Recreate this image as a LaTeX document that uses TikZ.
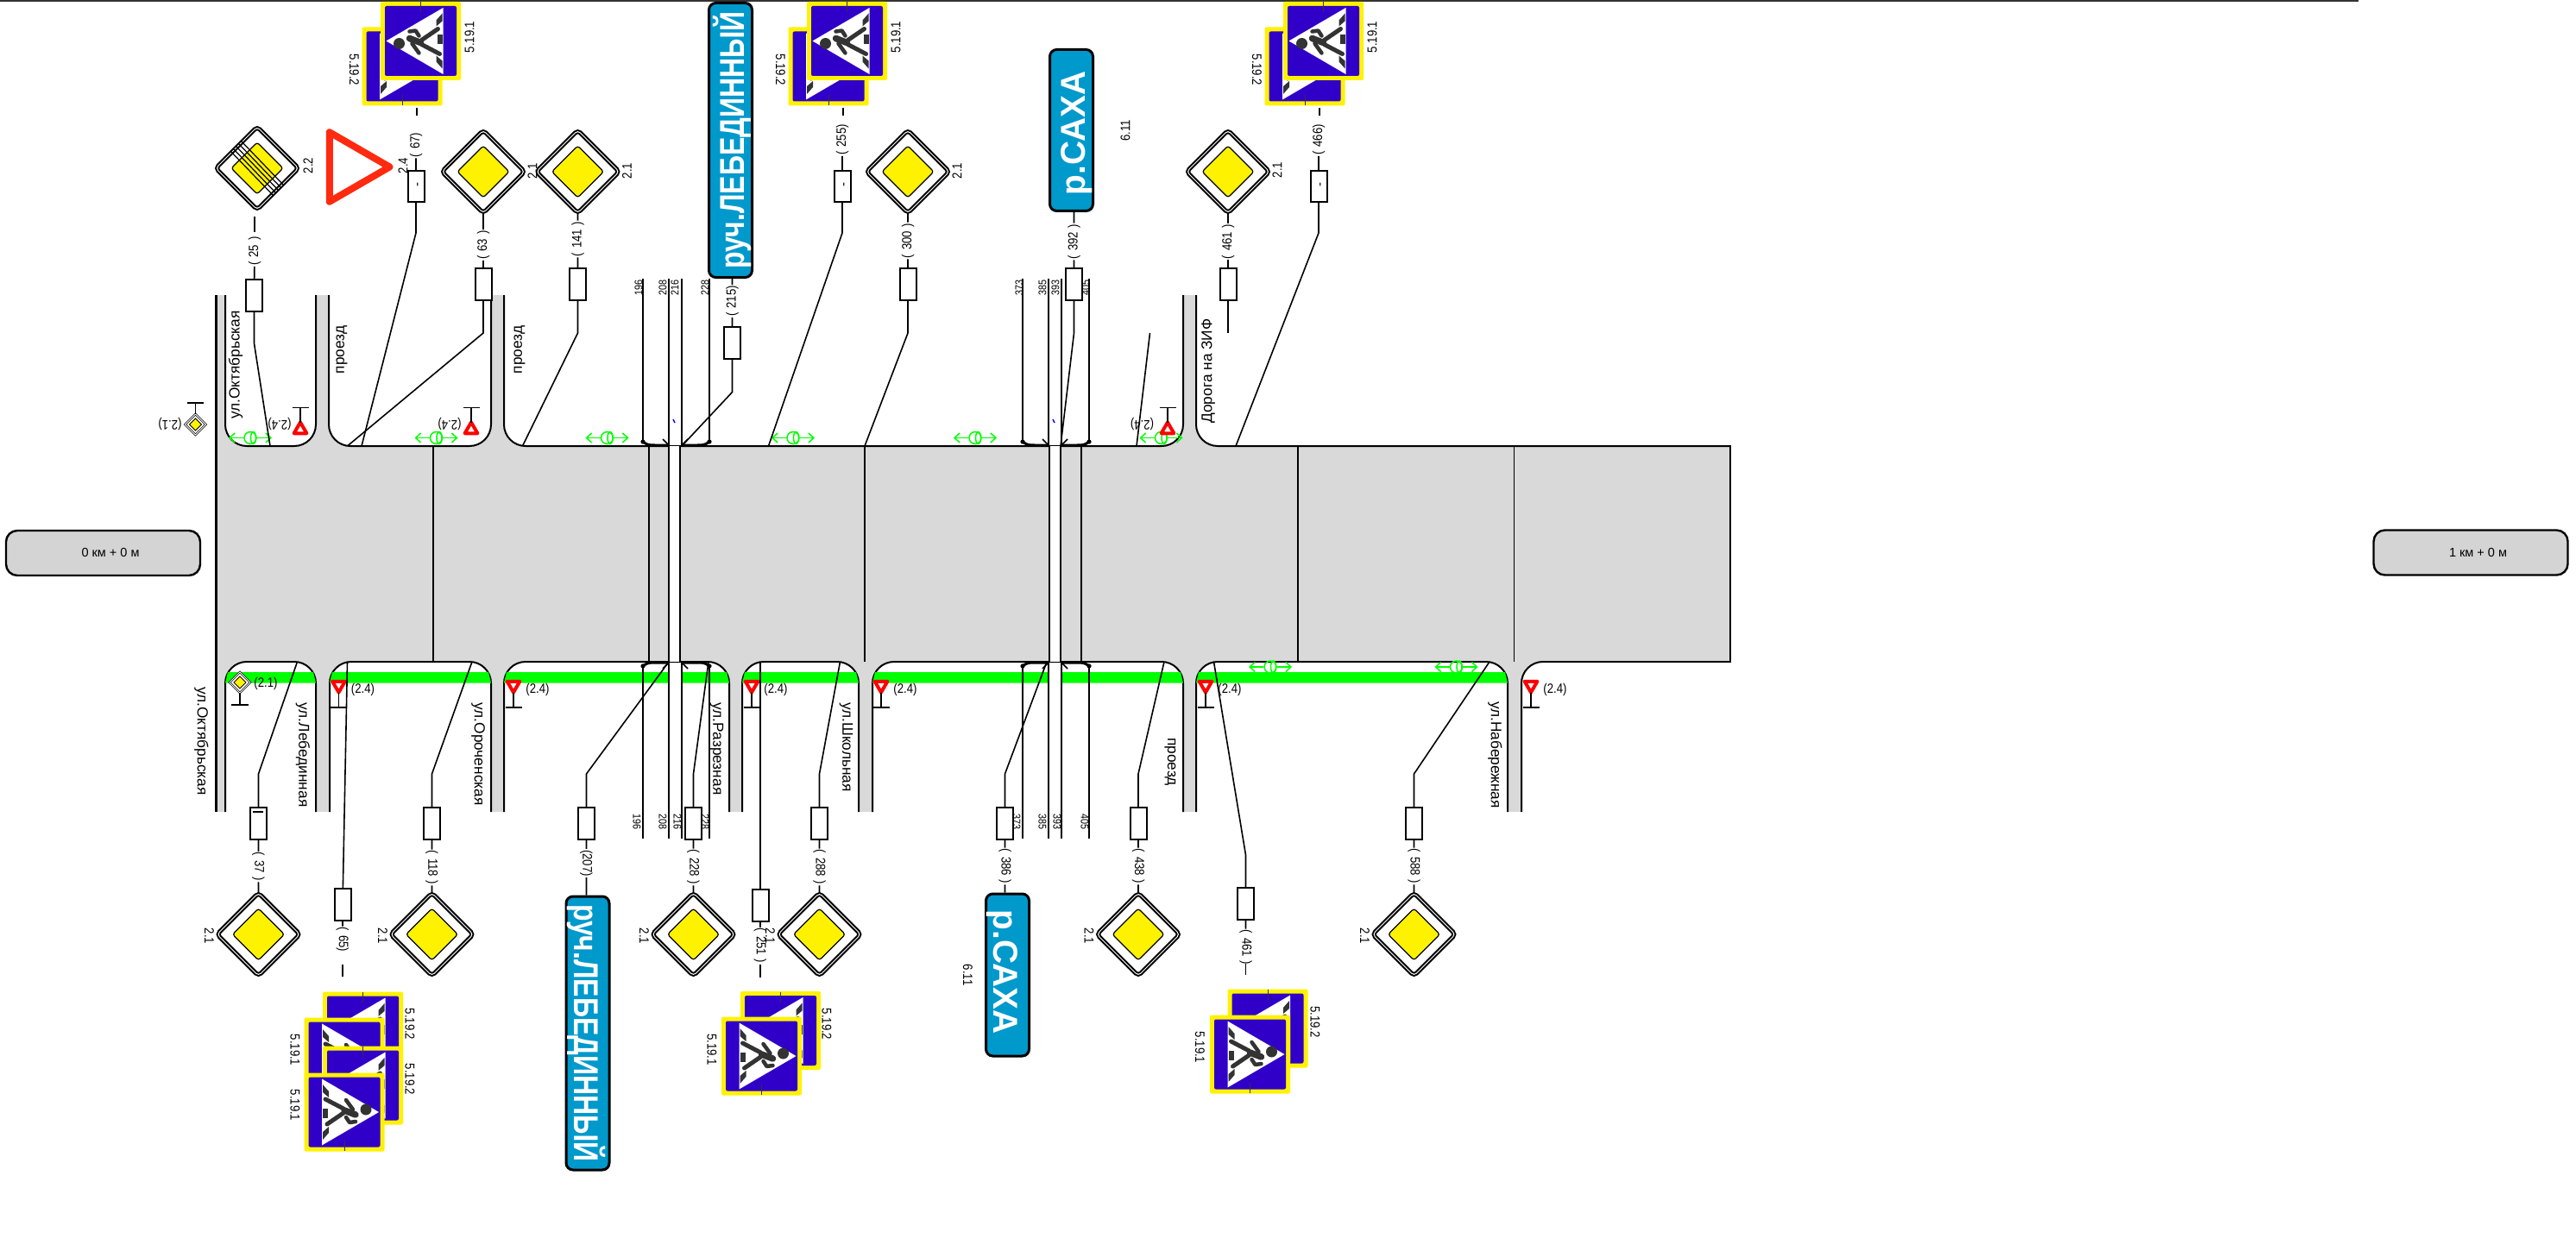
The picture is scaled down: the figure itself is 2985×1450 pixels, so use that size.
\documentclass[tikz,border=0pt]{standalone}
\usepackage{fontspec}
\setmainfont{Liberation Sans}
\newfontfamily\condfont{Liberation Sans}[FakeStretch=0.85]
\newfontfamily\distfont{Liberation Sans}[FakeStretch=0.85,WordSpace=1.15]
\newfontfamily\riverlong{Liberation Sans}[FakeStretch=0.8]
\newfontfamily\rivershort{Liberation Sans}[FakeStretch=0.97]
\usetikzlibrary{shapes.geometric,arrows.meta}
\definecolor{roadgrey}{HTML}{D9D9D9}
\definecolor{kmgrey}{HTML}{D4D4D4}
\definecolor{signblue}{HTML}{3000C8}
\definecolor{riverblue}{HTML}{0099CC}
\definecolor{bandgreen}{HTML}{00FF00}
\definecolor{triared}{HTML}{FF2A10}
\definecolor{pedgrey}{HTML}{333333}
\tikzset{
  conn/.style={line width=1.6pt},
  edge/.style={line width=2pt},
  box/.style={rectangle,draw,fill=white,line width=2pt,minimum width=19pt,minimum height=37pt,inner sep=0pt,outer sep=0pt},
  dist/.style={font=\distfont\fontsize{15.5}{17}\selectfont,inner sep=1pt},
  sgncap/.style={font=\condfont\fontsize{15.5}{17}\selectfont,inner sep=0pt},
  small/.style={font=\condfont\fontsize{12.7}{14}\selectfont,inner sep=0pt},
  tick/.style={font=\fontsize{15}{15}\selectfont,inner sep=0pt,rotate=90},
  mini/.style={font=\condfont\fontsize{15.5}{17}\selectfont,inner sep=0pt},
  street/.style={font=\fontsize{17.3}{19}\selectfont,inner sep=0pt},
  km/.style={rectangle,draw,fill=kmgrey,line width=2.4pt,rounded corners=13pt,minimum width=225pt,minimum height=52pt,font=\fontsize{14.5}{16}\selectfont},
  river/.style={rectangle,draw,fill=riverblue,line width=3pt,rounded corners=8pt,minimum height=50pt,inner sep=0pt,text=white,text height=32pt,text depth=0pt,font=\bfseries\fontsize{40}{44}\selectfont},
  priofill/.style={diamond,draw,fill=yellow,line width=1.2pt,rounded corners=3pt,minimum size=60pt,inner sep=0pt,outer sep=0pt},
  prio/.style={diamond,draw,fill=white,double,double distance=1pt,line width=2pt,rounded corners=4pt,minimum size=96pt,inner sep=0pt,outer sep=0pt,label={[priofill]center:}},
  minifill/.style={diamond,draw,fill=yellow,line width=.8pt,minimum size=14pt,inner sep=0pt,outer sep=0pt},
  minimain/.style={diamond,draw,fill=white,double,double distance=.8pt,line width=.8pt,minimum size=24pt,inner sep=0pt,outer sep=0pt,label={[minifill]center:}},
  giveway/.style={regular polygon,regular polygon sides=3,draw=red,fill=white,line width=4pt,line join=round,minimum size=17pt,inner sep=0pt,outer sep=0pt},
  bigway/.style={regular polygon,regular polygon sides=3,draw=triared,fill=white,line width=8pt,line join=round,minimum size=93pt,inner sep=0pt,outer sep=0pt,shape border rotate=-90},
  post/.style={line width=1.6pt},
  grn/.style={draw=bandgreen,line width=1.5pt,>={Straight Barb[length=6pt,width=11pt]}},
  crossing/.pic={
    \fill[yellow,rounded corners=2pt] (-46.5,-45.5) rectangle (46.5,45.5);
    \fill[signblue,rounded corners=2pt] (-41.5,-40.5) rectangle (41.5,40.5);
    \fill[white] (-40,0) -- (26,-38.5) -- (26,38.5) -- cycle;
    \fill[pedgrey] (18,-17) -- (18,-24) -- (25,-32) -- (25,-23) -- cycle;
    \fill[pedgrey] (19,-7) -- (25,-7) -- (25,4) -- (19,4) -- cycle;
    \fill[pedgrey] (18,17) -- (18,24) -- (25,32) -- (25,23) -- cycle;
    \fill[pedgrey] (-25,3) circle (6.5);
    \draw[pedgrey,line width=7.5pt,line cap=round,line join=round] (-13,-3) -- (0,2);
    \draw[pedgrey,line width=5pt,line cap=round,line join=round] (1,-1) -- (20,-14);
    \draw[pedgrey,line width=5pt,line cap=round,line join=round] (1,4) -- (22,15);
    \draw[pedgrey,line width=4.5pt,line cap=round,line join=round] (-13,-11) -- (-6,-12) -- (-2,-6);
    \draw[pedgrey,line width=4.5pt,line cap=round,line join=round] (-10,3) -- (-2,14);
    \draw[pedgrey,line width=.4pt] (0,-45) -- (0,-33);
  }
}
\begin{document}
\begin{tikzpicture}[x=1pt,y=-1pt]
  \useasboundingbox (0,0) rectangle (2985,1450);
  \coordinate (topa) at (0,1); \coordinate (topb) at (2733,1);
  \draw[line width=2pt,pedgrey] (topa) -- (topb);
%
  \fill[roadgrey] (250,342) rectangle (1386,517);
  \fill[roadgrey] (250,517) rectangle (2005,767);
  \fill[roadgrey] (250,767) rectangle (1763,941);
  \fill[roadgrey] (1386,490) rectangle (1412,517);
  \fill[roadgrey] (1763,767) rectangle (1789,793);
%
  \foreach \xa/\xb in {261/366,381/569,584/1371}
    \filldraw[edge,fill=white,rounded corners=25pt] (\xa,342) -- (\xa,517) -- (\xb,517) -- (\xb,342);
  \foreach \xa/\xb in {261/366,382/569,584/845,860/995,1011/1371,1386/1747}
    \filldraw[edge,fill=white,rounded corners=25pt] (\xa,941) -- (\xa,767) -- (\xb,767) -- (\xb,941);
  \fill[white,rounded corners=25pt] (1386,440) -- (1386,517) -- (1450,517) -- (1450,440) -- cycle;
  \fill[white,rounded corners=25pt] (1763,830) -- (1763,767) -- (1830,767) -- (1830,830) -- cycle;
  \draw[edge,rounded corners=25pt] (1386,342) -- (1386,517) -- (2005,517);
  \draw[edge,rounded corners=25pt] (2005,767) -- (1763,767) -- (1763,941);
  \draw[edge] (2005,516) -- (2005,768);
  \draw[line width=3pt] (250,342) -- (250,941);
%
  \foreach \xa/\xb/\ta/\tb in {261/366/264/363,382/569/385/566,584/775/587/775,790/845/790/842,860/995/863/992,1011/1215/1014/1215,1229/1371/1229/1368,1386/1747/1389/1744}
    \fill[bandgreen] (\xa,791.5) -- (\ta,779) -- (\tb,779) -- (\xb,791.5) -- cycle;
%
  \fill[white] (775,517) rectangle (788,767);
  \fill[white] (1216,517) rectangle (1229,767);
  \foreach \x in {502,752,775,788,1002,1216,1229,1253,1504,1754.5}
    \draw[conn] (\x,517) -- (\x,767);
%
  \foreach \xa/\xb/\xc/\xd in {745/775/790/822,1185/1215/1230/1262} {
    \draw[conn] (\xa,323) -- (\xa,512); \draw[conn] (\xb,323) -- (\xb,516); \draw[conn] (\xc,323) -- (\xc,516); \draw[conn] (\xd,323) -- (\xd,512);
    \draw[conn] (\xa,772) -- (\xa,972); \draw[conn] (\xb,768) -- (\xb,972); \draw[conn] (\xc,768) -- (\xc,972); \draw[conn] (\xd,772) -- (\xd,972);
    \fill (\xa,512) circle (2.6); \fill (\xd,512) circle (2.6); \fill (\xa,772) circle (2.6); \fill (\xd,772) circle (2.6);
    \draw[line width=3pt] (\xa,512) .. controls (\xa+5,516) and (\xa+8,516) .. (\xa+14,516) -- (\xb,516);
    \draw[line width=3pt] (\xd,512) .. controls (\xd-5,516) and (\xd-8,516) .. (\xd-14,516) -- (\xc,516);
    \draw[line width=3pt] (\xa,772) .. controls (\xa+5,768) and (\xa+8,768) .. (\xa+14,768) -- (\xb,768);
    \draw[line width=3pt] (\xd,772) .. controls (\xd-5,768) and (\xd-8,768) .. (\xd-14,768) -- (\xc,768);
    \draw[conn] (\xb,516) -- (\xb-7,509); \draw[conn] (\xc,516) -- (\xc+7,509);
    \draw[conn] (\xb,768) -- (\xb-7,775); \draw[conn] (\xc,768) -- (\xc+7,775);
  }
  \foreach \n/\xt/\xu in {196/740/738,208/768/768,216/782/785,228/817/817,373/1181/1178,385/1208/1208,393/1223/1225,405/1258/1257} {
    \node[small,rotate=90] (ht\n) at (\xt,333) {\n};
    \node[small,rotate=-90] (hb\n) at (\xu,952) {\n};
  }
  \draw[blue,line width=1.5pt] (780,486) -- (782,490);
  \draw[blue,line width=1.5pt] (1220,486) -- (1222,490);
%
  \foreach \n/\x in {a/290,b/505.5,c/703.5,d/919,e/1130,f/1345.5} {
    \node[circle,grn,fill=none,minimum size=14pt,inner sep=0pt] (g\n) at (\x,507.5) {};
    \draw[grn] (\x+3.5,507.5) ellipse (3 and 7);
    \draw[grn,->] (g\n) -- ++(-25,0);
    \draw[grn,->] (g\n) -- ++(25,0);
  }
  \foreach \n/\x in {h/1472,i/1687.5} {
    \node[circle,grn,fill=none,minimum size=14pt,inner sep=0pt] (g\n) at (\x,773) {};
    \draw[grn] (\x+3.5,773) ellipse (3 and 7);
    \draw[grn,->] (g\n) -- ++(-25,0);
    \draw[grn,->] (g\n) -- ++(25,0);
  }
%
  \node[km] (kma) at (119.5,641) {\hspace*{17pt}0 км + 0 м};
  \node[km] (kmb) at (2863,640.5) {\hspace*{17pt}1 км + 0 м};
%
  \node[street,rotate=90] (na) at (273,423) {ул.Октябрьская};
  \node[street,rotate=90] (nb) at (396,405.5) {проезд};
  \node[street,rotate=90] (nc) at (602,405.5) {проезд};
  \node[street,rotate=90] (nd) at (1400,430) {Дорога на ЗИФ};
  \node[street,rotate=-90] (ne) at (233.5,859) {ул.Октябрьская};
  \node[street,rotate=-90] (nf) at (351,875) {ул.Лебединная};
  \node[street,rotate=-90] (ng) at (554,874) {ул.Ороченская};
  \node[street,rotate=-90] (nh) at (830.5,868) {ул.Разрезная};
  \node[street,rotate=-90] (ni) at (980.5,866) {ул.Школьная};
  \node[street,rotate=-90] (nj) at (1356,883) {проезд};
  \node[street,rotate=-90] (nk) at (1732.5,875) {ул.Набережная};
%
  \node[minimain] (ma) at (226.5,492) {};
  \coordinate (mab) at (226.5,467);
  \draw[post] (ma) -- (mab); \draw[post] (217,467) -- (236,467);
  \node[mini,rotate=180] (mla) at (197,492) {(2.1)};
  \node[minimain] (mb) at (278,791) {};
  \coordinate (mbb) at (278,817);
  \draw[post] (mb) -- (mbb); \draw[post] (268,817) -- (288,817);
  \node[mini] (mlb) at (308,792) {(2.1)};
%
  \foreach \n/\x/\xl in {a/348/324,b/546/521,c/1353/1323.5} {
    \node[giveway] (tt\n) at (\x,498) {};
    \coordinate (ttb\n) at (\x,472.5);
    \draw[post] (tt\n) -- (ttb\n); \draw[post] (\x-9.5,472.5) -- (\x+9.5,472.5);
    \node[mini,rotate=180] (ttl\n) at (\xl,492) {(2.4)};
  }
  \foreach \n/\x in {a/392.5,b/595,c/871,d/1021,e/1397,f/1774} {
    \node[giveway,shape border rotate=180] (bt\n) at (\x,794) {};
    \coordinate (btb\n) at (\x,820);
    \draw[post] (bt\n) -- (btb\n); \draw[post] (\x-9.5,820) -- (\x+9.5,820);
    \node[mini] (btl\n) at (\x+28,799) {(2.4)};
  }
%
  \coordinate (r25) at (313,517); \coordinate (k25) at (294.5,398);
  \coordinate (p25) at (295,268.5); \coordinate (q25) at (295,250.5);
  \node[box] (b25) at (294.5,342.3) {};
  \node[dist,rotate=90] (l25) at (295,291) {( 25 )};
  \node[prio] (s25) at (298,195) {};
  \node[sgncap,rotate=90] (c25) at (357,192) {2.2};
  \draw[conn] (r25) -- (k25) -- (b25) -- (l25);
  \draw[conn] (p25) -- (q25);
  \foreach \o in {-6,-3,0,3,6}
    \draw[line width=1.2pt] ([xshift=-25pt+\o pt,yshift=26pt+\o pt]s25.center) -- ([xshift=25pt+\o pt,yshift=-26pt+\o pt]s25.center);
%
  \node[bigway] (s24) at (405,193.5) {};
  \node[sgncap,rotate=90] (c24) at (467,192) {2.4};
%
  \foreach \n/\xr/\xk/\ly/\lab in {67/419/482/168/( 67),255/890.5/976/162/( 255),466/1432/1528/162/( 466)} {
    \coordinate (r\n) at (\xr,517); \coordinate (k\n) at (\xk,270);
    \coordinate (p\n) at (\xk+1,134); \coordinate (q\n) at (\xk+1,125);
    \node[box,minimum height=36pt] (b\n) at (\xk,216) {};
    \node[tick] (d\n) at (\xk+3.5,214.5) {-};
    \node[dist,rotate=90] (l\n) at (\xk,\ly) {\lab};
    \pic[rotate=180] (cb\n) at (\xk-16,77) {crossing};
    \pic (cf\n) at (\xk+5.5,47.5) {crossing};
    \node[sgncap,rotate=-90] (cl\n) at (\xk-71.5,81) {5.19.2};
    \node[sgncap,rotate=90] (cm\n) at (\xk+62,43) {5.19.1};
    \draw[conn] (r\n) -- (k\n) -- (b\n) -- (l\n);
    \draw[conn] (p\n) -- (q\n);
  }
%
  \foreach \n/\xr/\xk/\ly in {63/402.5/560/284,141/605.5/669.5/277,300/1002/1052/279} {
    \coordinate (r\n) at (\xr,517); \coordinate (k\n) at (\xk,386);
    \node[box] (b\n) at (\xk,329) {};
    \node[dist,rotate=90] (l\n) at (\xk,\ly) {( \n{} )};
    \node[prio] (s\n) at (\xk,199) {};
    \node[sgncap,rotate=90] (c\n) at (\xk+57,198) {2.1};
    \draw[conn] (r\n) -- (k\n) -- (b\n) -- (l\n) -- (s\n);
  }
%
  \coordinate (k461) at (1423,386);
  \node[box] (b461) at (1423,329) {};
  \node[dist,rotate=90] (l461) at (1423,280) {( 461 )};
  \node[prio] (s461) at (1423,199) {};
  \node[sgncap,rotate=90] (c461) at (1480,197) {2.1};
  \draw[conn] (k461) -- (b461) -- (l461) -- (s461);
  \coordinate (fa) at (1332.5,386); \coordinate (fb) at (1317,517);
  \draw[conn] (fa) -- (fb);
%
  \node[river,rotate=90,minimum width=318pt] (rv1) at (846.5,162.5) {\riverlong\bfseries руч.ЛЕБЕДИННЫЙ};
  \coordinate (r215) at (790,517); \coordinate (k215) at (848.5,454.5);
  \node[box] (b215) at (848.5,397.5) {};
  \node[dist,rotate=90] (l215) at (848.5,349) {( 215)};
  \draw[conn] (r215) -- (k215) -- (b215) -- (l215) -- (l215 |- rv1.west);
%
  \node[river,rotate=90,minimum width=187pt] (rv2) at (1241.5,151) {\rivershort\bfseries р.САХА\hspace*{7pt}};
  \node[sgncap,rotate=90] (c611a) at (1304,151.5) {6.11};
  \coordinate (r392) at (1229,517); \coordinate (k392) at (1244.5,386);
  \node[box] (b392) at (1244.5,329) {};
  \node[dist,rotate=90] (l392) at (1244.5,280) {( 392 )};
  \draw[conn] (r392) -- (k392) -- (b392) -- (l392) -- (l392 |- rv2.west);
%
  \foreach \n/\xr/\xk/\ly in {37/344.5/299.5/1004.5,118/547/500.5/1005.5,228/821/803.5/1005,288/973.5/949.5/1005,438/1349/1319/1004,588/1726/1638.5/1004} {
    \coordinate (r\n) at (\xr,767); \coordinate (k\n) at (\xk,897);
    \node[box] (b\n) at (\xk,954.5) {};
    \node[dist,rotate=-90] (l\n) at (\xk,\ly) {( \n{} )};
    \node[prio] (s\n) at (\xk,1083) {};
    \node[sgncap,rotate=-90] (c\n) at (\xk-57,1085) {2.1};
    \draw[conn] (r\n) -- (k\n) -- (b\n) -- (l\n) -- (s\n);
  }
  \draw[line width=2pt] ([xshift=-7pt,yshift=-4.5pt]b37.north) -- ++(12,0);
%
  \coordinate (r65) at (402.5,767); \coordinate (p65) at (397,1118); \coordinate (q65) at (397,1131.5);
  \node[box] (b65) at (397,1048) {};
  \node[dist,rotate=-90] (l65) at (397,1089) {( 65)};
  \draw[conn] (r65) -- (b65) -- (l65);
  \draw[conn] (p65) -- (q65);
  \pic (cb65a) at (420.5,1195) {crossing};
  \pic[rotate=180] (cf65a) at (399,1225) {crossing};
  \pic (cb65b) at (420.5,1258) {crossing};
  \pic[rotate=180] (cf65b) at (399,1289) {crossing};
  \node[sgncap,rotate=-90] (cla) at (475,1187) {5.19.2};
  \node[sgncap,rotate=-90] (clb) at (475,1251) {5.19.2};
  \node[sgncap,rotate=-90] (clc) at (342,1217) {5.19.1};
  \node[sgncap,rotate=-90] (cld) at (342,1281) {5.19.1};
%
  \coordinate (r251) at (881,767); \coordinate (p251) at (881,1118); \coordinate (q251) at (881,1133);
  \node[box] (b251) at (881,1049) {};
  \node[dist,rotate=-90] (l251) at (881,1096) {( 251 )};
  \draw[conn] (r251) -- (b251) -- (l251);
  \draw[conn] (p251) -- (q251);
  \pic (cb251) at (904.5,1194.5) {crossing};
  \pic[rotate=180] (cf251) at (882.5,1224) {crossing};
  \node[sgncap,rotate=-90] (cle) at (958,1187) {5.19.2};
  \node[sgncap,rotate=-90] (clf) at (825,1216.5) {5.19.1};
%
  \coordinate (r461b) at (1406.5,767); \coordinate (k461b) at (1443.5,991);
  \coordinate (p461b) at (1443.5,1116.5); \coordinate (q461b) at (1443.5,1130);
  \node[box] (b461b) at (1443.5,1047.5) {};
  \node[dist,rotate=-90] (l461b) at (1443.5,1098) {( 461 )};
  \draw[conn] (r461b) -- (k461b) -- (b461b) -- (l461b);
  \draw[conn] (p461b) -- (q461b);
  \pic (cb461b) at (1469,1192) {crossing};
  \pic[rotate=180] (cf461b) at (1448.5,1222) {crossing};
  \node[sgncap,rotate=-90] (clg) at (1524,1184.5) {5.19.2};
  \node[sgncap,rotate=-90] (clh) at (1390.5,1214) {5.19.1};
%
  \node[river,rotate=-90,minimum width=317pt] (rv3) at (681,1197.5) {\riverlong\bfseries руч.ЛЕБЕДИННЫЙ};
  \coordinate (r207) at (775,767); \coordinate (k207) at (679.5,897);
  \node[box] (b207) at (679.5,954.5) {};
  \node[dist,rotate=-90] (l207) at (679.5,1000.5) {(207)};
  \draw[conn] (r207) -- (k207) -- (b207) -- (l207) -- (l207 |- rv3.west);
%
  \node[river,rotate=-90,minimum width=188pt] (rv4) at (1167.5,1130) {\rivershort\bfseries р.САХА\hspace*{7pt}};
  \node[sgncap,rotate=-90] (c611b) at (1121.5,1130) {6.11};
  \coordinate (r386) at (1213,767); \coordinate (k386) at (1164.5,897);
  \node[box] (b386) at (1164.5,954.5) {};
  \node[dist,rotate=-90] (l386) at (1164.5,1004) {( 386 )};
  \draw[conn] (r386) -- (k386) -- (b386) -- (l386) -- (l386 |- rv4.west);
\end{tikzpicture}
\end{document}
